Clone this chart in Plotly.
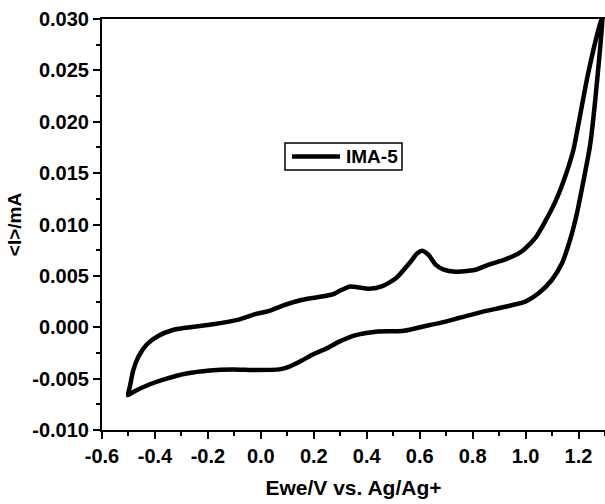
import plotly.graph_objects as go

# Anodic (forward) sweep: potential (V) and current (mA)
fwd_x = [-0.502, -0.495, -0.482, -0.463, -0.432, -0.388, -0.332, -0.281, -0.181, -0.080,
         -0.018, 0.033, 0.083, 0.146, 0.208, 0.271, 0.302, 0.334, 0.365, 0.409,
         0.459, 0.510, 0.560, 0.591, 0.610, 0.635, 0.660, 0.691, 0.735, 0.786,
         0.811, 0.861, 0.924, 0.986, 1.037, 1.074, 1.112, 1.150, 1.181, 1.200,
         1.237, 1.290]
fwd_y = [-0.0066, -0.0058, -0.0042, -0.0029, -0.0017, -0.00085, -0.00027, -0.00004, 0.00029, 0.00077,
         0.0013, 0.0016, 0.0021, 0.0026, 0.0029, 0.0032, 0.0036, 0.00395, 0.0039, 0.00375,
         0.0040, 0.00476, 0.0062, 0.0072, 0.00745, 0.0070, 0.0061, 0.0056, 0.0054, 0.0055,
         0.0056, 0.0061, 0.0066, 0.0074, 0.0087, 0.0103, 0.0122, 0.0147, 0.0173, 0.0198,
         0.0248, 0.0304]

# Cathodic (reverse) sweep
rev_x = [1.290, 1.263, 1.243, 1.219, 1.194, 1.168, 1.137, 1.099, 1.049,
         0.999, 0.924, 0.836, 0.748, 0.673, 0.635, 0.585, 0.534, 0.434, 0.359,
         0.296, 0.246, 0.200, 0.150, 0.100, 0.070, -0.018, -0.106, -0.193, -0.281,
         -0.356, -0.419, -0.482, -0.502]
rev_y = [0.0304, 0.0221, 0.0176, 0.0143, 0.0111, 0.0085, 0.0062, 0.0046, 0.0033,
         0.0025, 0.0020, 0.0015, 0.0009, 0.0004, 0.0002, -0.0001, -0.00037, -0.00043, -0.00076,
         -0.0014, -0.0021, -0.0026, -0.0033, -0.0039, -0.0041, -0.00416, -0.0041, -0.0042, -0.0045,
         -0.0050, -0.00555, -0.0063, -0.0066]

x_ticks = [-0.6, -0.4, -0.2, 0.0, 0.2, 0.4, 0.6, 0.8, 1.0, 1.2]
x_labels = ["-0.6", "-0.4", "-0.2", "0.0", "0.2", "0.4", "0.6", "0.8", "1.0", "1.2"]
y_ticks = [-0.010, -0.005, 0.000, 0.005, 0.010, 0.015, 0.020, 0.025, 0.030]
y_labels = ["-0.010", "-0.005", "0.000", "0.005", "0.010", "0.015", "0.020", "0.025", "0.030"]
series_name = "IMA-5"

FONT = "Liberation Sans"

fig = go.Figure()
fig.add_trace(go.Scatter(
    x=fwd_x + rev_x[1:], y=fwd_y + rev_y[1:],
    mode="lines", name=series_name, showlegend=False,
    line=dict(color="black", width=4.5, shape="spline", smoothing=0.6),
))

axis_common = dict(
    showgrid=False, zeroline=False,
    showline=True, linecolor="black", linewidth=2,
    ticks="outside", ticklen=7, tickwidth=2, tickcolor="black",
    tickfont=dict(family=FONT, size=20, color="black"),
    minor=dict(ticks="outside", ticklen=4, tickwidth=2, tickcolor="black", showgrid=False),
)

fig.update_xaxes(
    range=[-0.6, 1.3], tickvals=x_ticks, ticktext=["<b>%s</b>" % t for t in x_labels],
    minor_dtick=0.1, mirror=True,
    title=dict(text="<b>Ewe/V vs. Ag/Ag+</b>", font=dict(family=FONT, size=21, color="black"), standoff=14),
    **axis_common,
)
fig.update_yaxes(
    range=[-0.010, 0.030], tickvals=y_ticks, ticktext=["<b>%s</b>" % t for t in y_labels],
    minor_dtick=0.0025,
    title=dict(text="<b>&lt;I&gt;/mA</b>", font=dict(family=FONT, size=19, color="black"), standoff=6),
    **axis_common,
)

# Legend box drawn in paper coordinates (matches the small framed legend)
lx0, lx1, ly0, ly1 = 0.3638, 0.5964, 0.6326, 0.6983
ly = (ly0 + ly1) / 2
fig.add_shape(type="rect", xref="paper", yref="paper", x0=lx0, x1=lx1, y0=ly0, y1=ly1,
              line=dict(color="black", width=1.5), fillcolor="white", layer="above")
fig.add_shape(type="line", xref="paper", yref="paper", x0=0.3777, x1=0.4732, y0=ly, y1=ly,
              line=dict(color="black", width=4.5), layer="above")
fig.add_annotation(xref="paper", yref="paper", x=0.4811, y=ly, xanchor="left", yanchor="middle",
                   text="<b>%s</b>" % series_name, showarrow=False,
                   font=dict(family=FONT, size=19, color="black"))

fig.update_layout(
    width=605, height=504,
    margin=dict(l=102, r=0, t=19, b=74),
    paper_bgcolor="white", plot_bgcolor="white",
    showlegend=False,
)

fig.write_html("out.html")
